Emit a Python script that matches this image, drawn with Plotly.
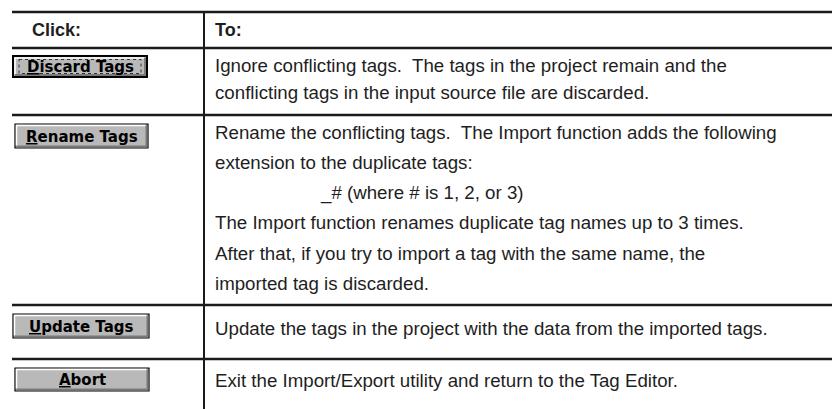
import plotly.graph_objects as go

# ---- table content ----
headers = ["Click:", "To:"]
buttons = ["Discard Tags", "Rename Tags", "Update Tags", "Abort"]
default_button = "Discard Tags"
descriptions = [
    ["Ignore conflicting tags.  The tags in the project remain and the",
     "conflicting tags in the input source file are discarded."],
    ["Rename the conflicting tags.  The Import function adds the following",
     "extension to the duplicate tags:",
     "_# (where # is 1, 2, or 3)",
     "The Import function renames duplicate tag names up to 3 times.",
     "After that, if you try to import a tag with the same name, the",
     "imported tag is discarded."],
    ["Update the tags in the project with the data from the imported tags."],
    ["Exit the Import/Export utility and return to the Tag Editor."],
]
indented_lines = ["_# (where # is 1, 2, or 3)"]

# ---- layout geometry (pixels) ----
W, H = 832, 409
LEFT, DIV = 12, 204
TOP, HEAD_BOTTOM = 12, 48
row_bottoms = [115, 305, 359, 409]
line_first = [65, 132, 328, 380]
line_step = [27, 30.3, 0, 0]
button_boxes = [(13, 56, 147, 77), (15, 124, 148, 148), (13, 314, 149, 338), (15, 368, 149, 391)]

TXT = "#1e1e1e"
LINE = "#1a1a1a"
FACE = "#b9b9b9"
BODY_FONT = "Liberation Sans, Arial, sans-serif"
BTN_FONT = "DejaVu Sans, Verdana, sans-serif"

fig = go.Figure()
shapes = []
annotations = []

def hline(y, w=2.5):
    shapes.append(dict(type="line", x0=LEFT, x1=W, y0=y, y1=y, xref="x", yref="y",
                       line=dict(color=LINE, width=w)))

hline(TOP)
hline(HEAD_BOTTOM)
for yb in row_bottoms[:-1]:
    hline(yb)
shapes.append(dict(type="line", x0=DIV, x1=DIV, y0=TOP, y1=H, xref="x", yref="y",
                   line=dict(color=LINE, width=2)))

# headers
annotations.append(dict(x=30, y=30, text="<b>%s</b>" % headers[0], showarrow=False,
                        xanchor="left", yanchor="middle",
                        font=dict(family=BODY_FONT, size=18, color=TXT)))
annotations.append(dict(x=213, y=30, text="<b>%s</b>" % headers[1], showarrow=False,
                        xanchor="left", yanchor="middle",
                        font=dict(family=BODY_FONT, size=18, color=TXT)))

# descriptions
for r, lines in enumerate(descriptions):
    for i, ln in enumerate(lines):
        x = 318 if ln in indented_lines else 213
        annotations.append(dict(x=x, y=line_first[r] + line_step[r] * i, text=ln,
                                showarrow=False, xanchor="left", yanchor="middle",
                                font=dict(family=BODY_FONT, size=18.7, color=TXT)))

# buttons
for label, (x0, y0, x1, y1) in zip(buttons, button_boxes):
    is_default = label == default_button
    shapes.append(dict(type="rect", x0=x0, x1=x1, y0=y0, y1=y1, xref="x", yref="y",
                       fillcolor=FACE, line=dict(color="#000000", width=2 if is_default else 1.2)))
    off = 2 if is_default else 1.5
    shapes.append(dict(type="path",
                       path=f"M {x0+off},{y1-off-1} L {x0+off},{y0+off} L {x1-off-1},{y0+off}",
                       xref="x", yref="y", line=dict(color="#ffffff", width=1.5)))
    shapes.append(dict(type="path",
                       path=f"M {x0+off},{y1-off} L {x1-off},{y1-off} L {x1-off},{y0+off}",
                       xref="x", yref="y", line=dict(color="#7a7a7a", width=2)))
    if is_default:
        shapes.append(dict(type="rect", x0=x0 + 6, x1=x1 - 6, y0=y0 + 3.5, y1=y1 - 3.5,
                           xref="x", yref="y",
                           line=dict(color="#333333", width=1, dash="dot")))
    txt = "<b><span style='text-decoration:underline'>%s</span>%s</b>" % (label[0], label[1:])
    annotations.append(dict(x=(x0 + x1) / 2, y=(y0 + y1) / 2 + 0.5, text=txt, showarrow=False,
                            xanchor="center", yanchor="middle",
                            font=dict(family=BTN_FONT, size=15, color="#000000")))

fig.update_layout(
    width=W, height=H,
    margin=dict(l=0, r=0, t=0, b=0),
    paper_bgcolor="white", plot_bgcolor="white",
    xaxis=dict(range=[0, W], visible=False, fixedrange=True),
    yaxis=dict(range=[H, 0], visible=False, fixedrange=True),
    shapes=shapes, annotations=annotations, showlegend=False,
)
fig.write_html("out.html", config={"displayModeBar": False},
               post_script="document.body.style.margin='0';document.body.style.overflow='hidden';")
